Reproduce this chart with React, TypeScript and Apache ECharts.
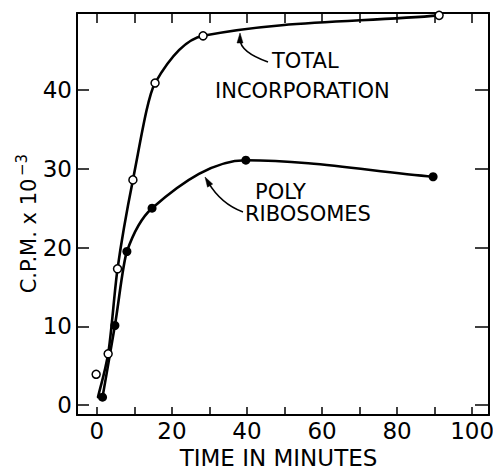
import { useEffect, useRef } from 'react';
import * as echarts from 'echarts';

// Data: [time (min), C.P.M. x 10^-3]
const totalStart: [number, number] = [0.3, 1.0];
const totalPoints: [number, number][] = [
  [3.0, 6.5], [5.5, 17.3], [9.6, 28.6], [15.5, 40.9], [28.3, 46.9], [91.2, 49.5],
];
const totalIsolated: [number, number][] = [[-0.2, 3.9]];
const polyPoints: [number, number][] = [
  [1.5, 1.0], [4.8, 10.1], [8.0, 19.5], [14.7, 25.0], [39.7, 31.1], [89.6, 29.0],
];
const xLabelTicks = [0, 20, 40, 60, 80, 100];
const yLabelTicks = [0, 10, 20, 30, 40];
const xTitle = 'TIME IN MINUTES';
const yTitle = 'C.P.M. x 10';
const yTitleExp = '\u22123';

const FONT = 'DejaVu Sans';

// monotone cubic (Fritsch-Carlson) path through data points, mapped by the chart's coord
function curvePath(pts: number[][], coord: (p: number[]) => number[]): string {
  const n = pts.length;
  const xs = pts.map((p) => p[0]);
  const ys = pts.map((p) => p[1]);
  const d: number[] = [];
  for (let i = 0; i < n - 1; i++) d.push((ys[i + 1] - ys[i]) / (xs[i + 1] - xs[i]));
  const m: number[] = new Array(n).fill(0);
  m[0] = d[0];
  m[n - 1] = d[n - 2];
  for (let i = 1; i < n - 1; i++) {
    if (d[i - 1] * d[i] <= 0) m[i] = 0;
    else {
      const h0 = xs[i] - xs[i - 1], h1 = xs[i + 1] - xs[i];
      const w1 = 2 * h1 + h0, w2 = h1 + 2 * h0;
      m[i] = (w1 + w2) / (w1 / d[i - 1] + w2 / d[i]);
    }
  }
  const P = (p: number[]) => {
    const c = coord(p);
    return c[0].toFixed(2) + ' ' + c[1].toFixed(2);
  };
  let s = 'M' + P(pts[0]);
  for (let i = 0; i < n - 1; i++) {
    const h = xs[i + 1] - xs[i];
    const c1 = [xs[i] + h / 3, ys[i] + (m[i] * h) / 3];
    const c2 = [xs[i + 1] - h / 3, ys[i + 1] - (m[i + 1] * h) / 3];
    s += ' C' + P(c1) + ' ' + P(c2) + ' ' + P(pts[i + 1]);
  }
  return s;
}

function arrow(x1: number, y1: number, cx: number, cy: number, tx: number, ty: number) {
  const dx = tx - cx, dy = ty - cy;
  const len = Math.sqrt(dx * dx + dy * dy);
  const ux = dx / len, uy = dy / len;
  const L = 10, W = 3;
  const bx = tx - ux * L, by = ty - uy * L;
  const px = -uy * W, py = ux * W;
  return [
    {
      type: 'bezierCurve',
      shape: { x1, y1, x2: tx - ux * 6, y2: ty - uy * 6, cpx1: cx, cpy1: cy },
      style: { stroke: '#000', lineWidth: 1.6, fill: null },
      silent: true,
    },
    {
      type: 'polygon',
      shape: { points: [[tx, ty], [bx + px, by + py], [bx - px, by - py]] },
      style: { fill: '#000', stroke: '#000', lineWidth: 0.5 },
      silent: true,
    },
  ];
}

export default function App() {
  const ref = useRef<HTMLDivElement>(null);
  useEffect(() => {
    if (!ref.current) return;
    const chart = echarts.init(ref.current, null, { renderer: 'svg' });
    const xMin = -5.3, xMax = 104.5, yMin = -1.27, yMax = 49.8;
    const lbl = (set: number[]) => (v: number) => (set.indexOf(Math.round(v * 1000) / 1000) >= 0 ? String(v) : '');
    const annText = (text: string, x: number, y: number, size = 21) => ({
      type: 'text', x, y, silent: true,
      style: { text, fill: '#000', font: `${size}px "${FONT}"`, align: 'left', verticalAlign: 'middle' },
    });
    const curveSeries = (name: string, pts: number[][]) => ({
      name, type: 'custom', xAxisIndex: 0, yAxisIndex: 0,
      data: pts, clip: false, silent: true, z: 2,
      renderItem: (params: any, api: any) => {
        if (params.dataIndex !== 0) return null;
        return {
          type: 'path',
          shape: { pathData: curvePath(pts, (p) => api.coord(p)) },
          style: { stroke: '#000', lineWidth: 2.6, fill: 'none', lineCap: 'round', lineJoin: 'round' },
        };
      },
    });
    const frameAxis = {
      axisLine: { show: true, onZero: false, lineStyle: { color: '#000', width: 2 } },
      splitLine: { show: false },
    };
    const tick = (len: number) => ({ show: true, inside: false, length: -len, lineStyle: { color: '#000', width: 1.5 } });
    chart.setOption({
      animation: false,
      backgroundColor: '#fff',
      grid: { left: 77, right: 4, top: 13, bottom: 57, outerBoundsMode: 'none' },
      xAxis: [
        {
          ...frameAxis,
          type: 'value', position: 'bottom', min: xMin, max: xMax, splitNumber: 11,
          axisTick: tick(8),
          axisLabel: { formatter: lbl(xLabelTicks), showMinLabel: false, showMaxLabel: false, color: '#000', fontSize: 23, fontFamily: FONT, margin: 4 },
          name: xTitle, nameLocation: 'middle', nameGap: 31,
          nameTextStyle: { color: '#000', fontSize: 23, fontFamily: FONT, padding: [0, 9, 0, 0] },
        },
        {
          ...frameAxis,
          type: 'value', position: 'top', min: xMin, max: xMax, splitNumber: 11,
          axisTick: tick(10),
          axisLabel: { show: false },
        },
      ],
      yAxis: [
        {
          ...frameAxis,
          type: 'value', position: 'left', min: yMin, max: yMax, splitNumber: 5,
          axisTick: tick(12),
          axisLabel: { formatter: lbl(yLabelTicks), showMinLabel: false, showMaxLabel: false, color: '#000', fontSize: 23, fontFamily: FONT, margin: 5 },
        },
        {
          ...frameAxis,
          type: 'value', position: 'right', min: yMin, max: yMax, splitNumber: 5,
          axisTick: tick(14),
          axisLabel: { show: false },
        },
      ],
      series: [
        curveSeries('Total incorporation curve', [totalStart, ...totalPoints]),
        curveSeries('Poly ribosomes curve', polyPoints),
        {
          name: 'Total incorporation', type: 'scatter', xAxisIndex: 0, yAxisIndex: 0,
          data: [...totalIsolated, ...totalPoints], symbol: 'circle', symbolSize: 8,
          itemStyle: { color: '#fff', borderColor: '#000', borderWidth: 1.5, opacity: 1 },
          z: 4,
        },
        {
          name: 'Poly ribosomes', type: 'scatter', xAxisIndex: 0, yAxisIndex: 0,
          data: polyPoints, symbol: 'circle', symbolSize: 9,
          itemStyle: { color: '#000', borderWidth: 0, opacity: 1 },
          z: 4,
        },
      ],
      graphic: [
        {
          type: 'text', x: 29, y: 236, rotation: Math.PI / 2, silent: true,
          style: { text: yTitle, fill: '#000', font: `21px "${FONT}"`, align: 'center', verticalAlign: 'middle' },
        },
        {
          type: 'text', x: 22, y: 165, rotation: Math.PI / 2, silent: true,
          style: { text: yTitleExp, fill: '#000', font: `15px "${FONT}"`, align: 'center', verticalAlign: 'middle' },
        },
        annText('TOTAL', 272, 61),
        annText('INCORPORATION', 215, 91),
        annText('POLY', 255, 192),
        annText('RIBOSOMES', 245, 214),
        ...arrow(268, 62, 240, 52, 240, 33),
        ...arrow(243, 212, 221, 204, 205, 177),
      ],
    });
    return () => chart.dispose();
  }, []);
  return <div ref={ref} style={{ width: 493, height: 472, position: 'absolute', left: 0, top: 0 }} />;
}
